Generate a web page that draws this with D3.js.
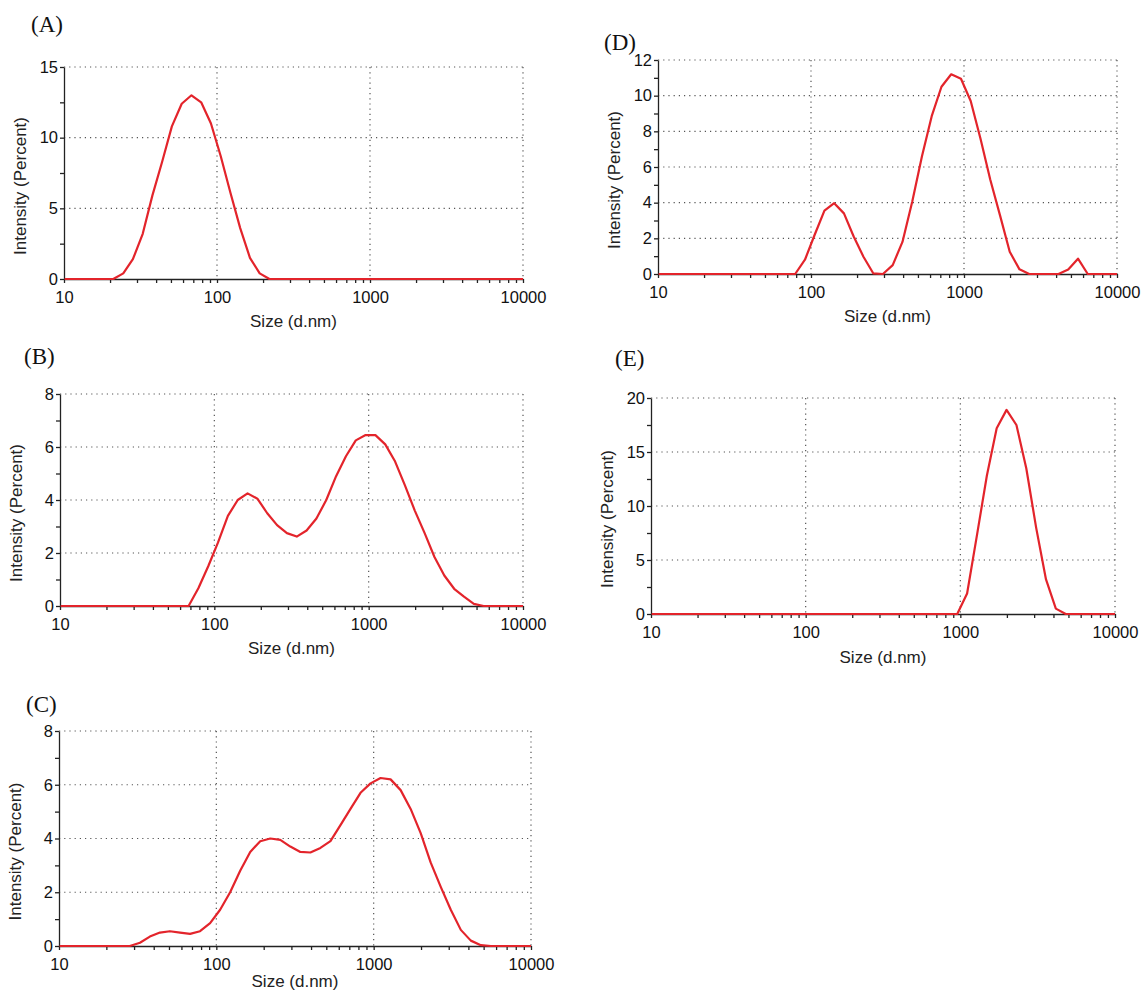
<!DOCTYPE html>
<html>
<head>
<meta charset="utf-8">
<script src="https://cdn.jsdelivr.net/npm/d3@7"></script>
<style>
  body { margin: 0; background: #fff; }
  svg { display: block; }
</style>
</head>
<body>
<div class="canva"></div>
<script>
// size bins (d.nm), shared by all five measurements
const sizes = [10.1, 11.7, 13.5, 15.7, 18.2, 21.0, 24.4, 28.2, 32.7, 37.8, 43.8, 50.7,
  58.8, 68.1, 78.8, 91.3, 105.7, 122.4, 141.8, 164.2, 190.1, 220.2, 255.0, 295.3,
  342.0, 396.1, 458.7, 531.2, 615.1, 712.4, 825.0, 955.4, 1106, 1281, 1484, 1718,
  1990, 2305, 2669, 3091, 3580, 4145, 4801, 5560, 6439, 7456, 8635, 10000];

// intensity (percent) per bin
const intensityA = [0, 0, 0, 0, 0, 0, 0.4, 1.4, 3.2, 5.9, 8.3, 10.8,
  12.4, 13.0, 12.5, 11.0, 8.7, 6.1, 3.6, 1.5, 0.4, 0, 0, 0,
  0, 0, 0, 0, 0, 0, 0, 0, 0, 0, 0, 0,
  0, 0, 0, 0, 0, 0, 0, 0, 0, 0, 0, 0];
const intensityB = [0, 0, 0, 0, 0, 0, 0, 0, 0, 0, 0, 0,
  0, 0, 0.67, 1.5, 2.4, 3.4, 4.0, 4.25, 4.05, 3.5, 3.05, 2.75,
  2.62, 2.85, 3.3, 4.0, 4.9, 5.65, 6.25, 6.45, 6.45, 6.1, 5.45, 4.55,
  3.6, 2.75, 1.85, 1.15, 0.65, 0.35, 0.08, 0, 0, 0, 0, 0];
const intensityC = [0, 0, 0, 0, 0, 0, 0, 0, 0.12, 0.35, 0.5, 0.55,
  0.5, 0.45, 0.55, 0.85, 1.35, 2.0, 2.8, 3.5, 3.9, 4.0, 3.95, 3.7,
  3.5, 3.48, 3.65, 3.9, 4.5, 5.1, 5.7, 6.05, 6.25, 6.2, 5.8, 5.1,
  4.2, 3.1, 2.2, 1.35, 0.6, 0.2, 0.03, 0, 0, 0, 0, 0];
const intensityD = [0, 0, 0, 0, 0, 0, 0, 0, 0, 0, 0, 0,
  0, 0, 0, 0.8, 2.2, 3.55, 3.97, 3.4, 2.1, 0.97, 0.04, 0,
  0.5, 1.8, 4.05, 6.6, 8.85, 10.5, 11.2, 10.95, 9.7, 7.6, 5.3, 3.3,
  1.25, 0.26, 0, 0, 0, 0, 0.25, 0.86, 0, 0, 0, 0];
const intensityE = [0, 0, 0, 0, 0, 0, 0, 0, 0, 0, 0, 0,
  0, 0, 0, 0, 0, 0, 0, 0, 0, 0, 0, 0,
  0, 0, 0, 0, 0, 0, 0, 0, 1.9, 7.3, 12.8, 17.2,
  18.9, 17.5, 13.5, 8.0, 3.2, 0.5, 0, 0, 0, 0, 0, 0];

const xMajor = [10, 100, 1000, 10000];
const xMinor = [20, 30, 40, 50, 60, 70, 80, 90, 200, 300, 400, 500, 600, 700, 800, 900,
  2000, 3000, 4000, 5000, 6000, 7000, 8000, 9000];

const panels = [
  { tag: '(A)', data: intensityA, yMax: 15, step: 5,  x0: 64,  x1: 523,  y0: 67,  y1: 279, lx: 31,  ly: 32,  ty: 48 },
  { tag: '(B)', data: intensityB, yMax: 8,  step: 2,  x0: 60,  x1: 523,  y0: 394, y1: 606, lx: 24,  ly: 364, ty: 48 },
  { tag: '(C)', data: intensityC, yMax: 8,  step: 2,  x0: 59,  x1: 531,  y0: 731, y1: 946, lx: 26,  ly: 712, ty: 41 },
  { tag: '(D)', data: intensityD, yMax: 12, step: 2,  x0: 658, x1: 1117, y0: 60,  y1: 274, lx: 604, ly: 50,  ty: 48 },
  { tag: '(E)', data: intensityE, yMax: 20, step: 5,  x0: 651, x1: 1115, y0: 398, y1: 614, lx: 615, ly: 366, ty: 49 }
];

const svg = d3.select('.canva').append('svg')
  .attr('width', 1143)
  .attr('height', 992);

svg.append('rect').attr('width', 1143).attr('height', 992).attr('fill', '#fff');

panels.forEach(p => {
  const x = d3.scaleLog().domain([10, 10000]).range([p.x0, p.x1]);
  const y = d3.scaleLinear().domain([0, p.yMax]).range([p.y1, p.y0]);
  const yMajor = d3.range(0, p.yMax + 0.001, p.step);
  const yAll = d3.range(0, p.yMax + 0.001, p.step / 2);
  const g = svg.append('g');

  // dotted grid
  g.selectAll('.hg').data(yMajor.filter(v => v > 0)).enter().append('line')
    .attr('x1', p.x0).attr('x2', p.x1)
    .attr('y1', d => y(d)).attr('y2', d => y(d))
    .attr('stroke', '#555').attr('stroke-width', 1.2)
    .attr('stroke-dasharray', '1.2,4');
  g.selectAll('.vg').data(xMajor.slice(1)).enter().append('line')
    .attr('x1', d => x(d)).attr('x2', d => x(d))
    .attr('y1', p.y0).attr('y2', p.y1)
    .attr('stroke', '#555').attr('stroke-width', 1.2)
    .attr('stroke-dasharray', '1.2,4');

  // axes
  const ax = g.append('g').attr('transform', `translate(0,${p.y1})`)
    .call(d3.axisBottom(x).tickValues(xMajor.concat(xMinor)).tickSize(4).tickSizeOuter(0)
      .tickPadding(8).tickFormat(d => xMajor.includes(d) ? d : ''));
  const ay = g.append('g').attr('transform', `translate(${p.x0},0)`)
    .call(d3.axisLeft(y).tickValues(yAll).tickSize(4).tickSizeOuter(0)
      .tickPadding(2).tickFormat(d => yMajor.includes(d) ? d : ''));
  [ax, ay].forEach(a => {
    a.attr('font-family', 'Liberation Sans, Arial, sans-serif').attr('font-size', 16.5);
    a.selectAll('path, line').attr('stroke', '#222').attr('stroke-width', 1.3);
    a.selectAll('text').attr('fill', '#111');
  });

  // curve
  g.append('path')
    .datum(sizes.map((s, i) => [s, p.data[i]]))
    .attr('fill', 'none')
    .attr('stroke', '#e3242b')
    .attr('stroke-width', 2.2)
    .attr('stroke-linejoin', 'round')
    .attr('d', d3.line().x(d => x(d[0])).y(d => y(d[1])));

  // titles
  g.append('text')
    .attr('x', (p.x0 + p.x1) / 2).attr('y', p.y1 + p.ty)
    .attr('text-anchor', 'middle')
    .attr('font-family', 'Liberation Sans, Arial, sans-serif').attr('font-size', 17)
    .attr('fill', '#222')
    .text('Size (d.nm)');
  const cy = (p.y0 + p.y1) / 2 + 13;
  g.append('text')
    .attr('transform', `translate(${p.x0 - 38},${cy}) rotate(-90)`)
    .attr('text-anchor', 'middle')
    .attr('font-family', 'Liberation Sans, Arial, sans-serif').attr('font-size', 17)
    .attr('fill', '#222')
    .text('Intensity (Percent)');
  g.append('text')
    .attr('x', p.lx).attr('y', p.ly)
    .attr('font-family', 'Liberation Serif, Times New Roman, serif').attr('font-size', 23)
    .attr('fill', '#111')
    .text(p.tag);
});
</script>
</body>
</html>
